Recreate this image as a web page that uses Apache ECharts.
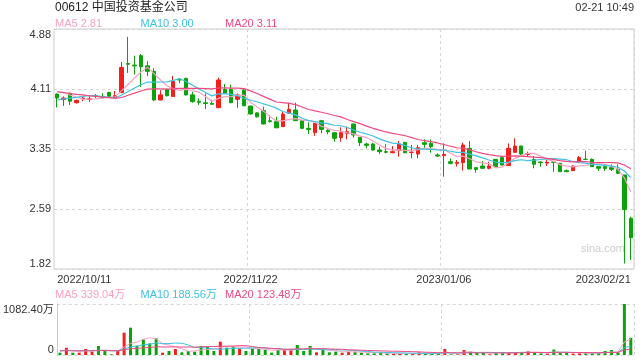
<!DOCTYPE html>
<html><head><meta charset="utf-8">
<script src="https://cdn.jsdelivr.net/npm/echarts@6/dist/echarts.min.js"></script>
<style>html,body{margin:0;padding:0;background:#fff}#c{width:640px;height:360px}</style>
</head><body><div id="c"></div>
<script>
const dates = ['2022/10/11','2022/10/12','2022/10/13','2022/10/14','2022/10/17','2022/10/18','2022/10/19','2022/10/20','2022/10/21','2022/10/24','2022/10/25','2022/10/26','2022/10/27','2022/10/28','2022/10/31',
'2022/11/01','2022/11/02','2022/11/03','2022/11/04','2022/11/07','2022/11/08','2022/11/09','2022/11/10','2022/11/11','2022/11/14','2022/11/15','2022/11/16','2022/11/17','2022/11/18','2022/11/21','2022/11/22','2022/11/23','2022/11/24','2022/11/25','2022/11/28','2022/11/29','2022/11/30',
'2022/12/01','2022/12/02','2022/12/05','2022/12/06','2022/12/07','2022/12/08','2022/12/09','2022/12/12','2022/12/13','2022/12/14','2022/12/15','2022/12/16','2022/12/19','2022/12/20','2022/12/21','2022/12/22','2022/12/23','2022/12/28','2022/12/29','2022/12/30',
'2023/01/03','2023/01/04','2023/01/05','2023/01/06','2023/01/09','2023/01/10','2023/01/11','2023/01/12','2023/01/13','2023/01/16','2023/01/17','2023/01/18','2023/01/19','2023/01/20','2023/01/26','2023/01/27','2023/01/30','2023/01/31',
'2023/02/01','2023/02/02','2023/02/03','2023/02/06','2023/02/07','2023/02/08','2023/02/09','2023/02/10','2023/02/13','2023/02/14','2023/02/15','2023/02/16','2023/02/17','2023/02/20','2023/02/21'];

const opens = [4.05,3.98,4.06,3.94,3.99,3.98,4.03,4.02,4.07,4.01,
4.07,4.44,4.42,4.54,4.41,4.34,3.975,4.11,4.02,4.24,
4.25,4.04,3.96,3.94,3.93,3.877,4.11,4.11,3.983,4.10,
3.898,3.81,3.839,3.71,3.70,3.635,3.805,3.847,3.711,3.613,
3.558,3.71,3.59,3.558,3.495,3.55,3.669,3.499,3.414,3.414,
3.337,3.316,3.303,3.329,3.435,3.305,3.286,3.43,3.422,3.274,
3.265,3.188,3.167,3.176,3.358,3.112,3.133,3.104,3.218,3.24,
3.138,3.307,3.388,3.28,3.218,3.184,3.17,3.185,3.167,3.074,
3.074,3.189,3.22,3.218,3.125,3.125,3.112,3.09,3.019,2.466];

const closes = [4.00,4.00,3.96,3.97,4.00,3.99,4.02,4.01,4.02,4.03,
4.39,4.43,4.41,4.40,4.34,3.975,4.04,4.03,4.21,4.23,
4.04,3.954,3.945,3.93,3.92,4.23,4.06,3.94,4.039,3.90,
3.796,3.76,3.669,3.70,3.62,3.796,3.856,3.711,3.613,3.60,
3.677,3.60,3.57,3.486,3.558,3.571,3.529,3.431,3.397,3.337,
3.316,3.308,3.316,3.414,3.303,3.31,3.367,3.41,3.38,3.26,
3.282,3.167,3.18,3.401,3.095,3.09,3.104,3.133,3.125,3.146,
3.358,3.388,3.286,3.29,3.155,3.176,3.18,3.18,3.061,3.06,
3.133,3.24,3.218,3.125,3.104,3.10,3.09,3.04,2.58,2.22];

const lows = [3.88,3.90,3.91,3.93,3.96,3.95,4.00,3.99,4.01,4.00,
4.06,4.32,4.30,4.14,4.28,3.96,3.97,4.02,4.02,4.19,
4.03,3.94,3.91,3.86,3.92,3.87,4.06,3.94,3.877,3.90,
3.79,3.75,3.665,3.686,3.62,3.635,3.805,3.711,3.605,3.54,
3.516,3.55,3.537,3.443,3.443,3.473,3.495,3.388,3.358,3.329,
3.286,3.295,3.295,3.252,3.295,3.231,3.231,3.346,3.303,3.252,
2.997,3.155,3.125,3.074,3.095,3.048,3.10,3.09,3.112,3.14,
3.138,3.307,3.274,3.252,3.104,3.125,3.133,3.061,3.061,3.06,
3.074,3.189,3.21,3.125,3.07,3.07,3.07,3.03,1.89,1.935];

const highs = [4.06,4.02,4.07,3.98,4.03,4.02,4.05,4.06,4.08,4.09,
4.46,4.78,4.54,4.56,4.47,4.38,4.10,4.12,4.28,4.25,
4.26,4.08,3.995,4.06,3.98,4.26,4.18,4.17,4.06,4.12,
3.90,3.82,3.89,3.78,3.76,3.826,3.94,3.94,3.72,3.69,
3.68,3.72,3.60,3.56,3.626,3.635,3.67,3.50,3.43,3.43,
3.38,3.41,3.388,3.452,3.44,3.401,3.401,3.473,3.473,3.295,
3.422,3.23,3.21,3.43,3.452,3.115,3.197,3.188,3.22,3.26,
3.422,3.486,3.39,3.316,3.26,3.19,3.218,3.19,3.17,3.09,
3.14,3.26,3.329,3.23,3.125,3.155,3.155,3.155,3.02,2.487];

// volumes in 万
const volumes = [49,155,49,49,127,71,191,85,15,85,
473,580,198,332,247,354,49,85,127,57,
85,71,191,177,85,283,155,177,141,85,
141,127,106,49,106,120,120,212,85,191,
57,106,57,71,49,71,71,49,35,35,
49,35,28,28,28,28,57,35,35,35,
127,15,15,106,71,49,49,15,49,49,
60,60,55,80,60,35,30,115,45,44,
30,35,40,40,45,85,106,57,1082.4,365];

// sessions before the first shown day (for moving averages)
const priorCloses = [4.20,4.22,4.18,4.15,4.20,4.17,4.19,4.16,4.20,4.18,3.85,3.88,3.86,3.88,3.88,4.05,4.12,4.10,4.13];
const priorVolumes = [80,95,70,110,85,90,75,100,88,92,70,85,95,80,90,105,95,100,110];

const xLabelDates = ['2022/10/11','2022/11/22','2023/01/06','2023/02/21'];
const xSplitDates = ['2022/11/22','2023/01/06'];
const yTickValues = [1.82, 2.585, 3.35, 4.115, 4.88];
const yTickLabels = ['1.82','2.59','3.35','4.11','4.88'];
const volMax = 1082.4;

const titleText = '00612 中国投资基金公司';
const timeText = '02-21 10:49';
const priceMaTexts = ['MA5 2.81','MA10 3.00','MA20 3.11'];
const volMaTexts = ['MA5 339.04万','MA10 188.56万','MA20 123.48万'];

const C_UP = '#f31f1b', C_DOWN = '#0ba20b';
const C_MA = ['#f7a3bf','#3fc2e3','#ee4a80'];
const FONT = 'Arial, "Liberation Sans", "Noto Sans CJK SC", sans-serif';

function ma(values, prior, n) {
  const all = prior.concat(values);
  return values.map((_, i) => {
    let s = 0;
    for (let k = 0; k < n; k++) s += all[prior.length + i - k];
    return +(s / n).toFixed(4);
  });
}

const candleData = dates.map((_, i) => [opens[i], closes[i], lows[i], highs[i]]);
const volData = volumes.map((v, i) => ({value: v, itemStyle: {color: closes[i] >= opens[i] ? C_UP : C_DOWN}}));
const maN = [5, 10, 20];

const splitLineCfg = {
  show: true,
  interval: (idx) => xSplitDates.indexOf(dates[idx]) >= 0,
  lineStyle: {color: '#d6d6d6', type: [3, 3], width: 1}
};
const hSplit = {show: true, lineStyle: {color: '#d6d6d6', type: [3, 3], width: 1}};

const chart = echarts.init(document.getElementById('c'), null, {renderer: 'canvas'});

const graphics = [
  {type: 'text', x: 55, y: 8, style: {text: titleText, fill: '#222', font: '12px ' + FONT, verticalAlign: 'middle', align: 'left'}},
  {type: 'text', x: 634, y: 8, style: {text: timeText, fill: '#333', font: '11px ' + FONT, verticalAlign: 'middle', align: 'right'}},
  {type: 'text', x: 603, y: 249, style: {text: 'sina.com', fill: '#cccccc', font: '11px ' + FONT, verticalAlign: 'middle', align: 'center'}}
];
const legendX = [55, 140.5, 225];
priceMaTexts.forEach((t, k) => graphics.push({type: 'text', x: legendX[k], y: 23.5, style: {text: t, fill: C_MA[k], font: '11px ' + FONT, verticalAlign: 'middle', align: 'left'}}));
volMaTexts.forEach((t, k) => graphics.push({type: 'text', x: legendX[k], y: 295, style: {text: t, fill: C_MA[k], font: '11px ' + FONT, verticalAlign: 'middle', align: 'left'}}));

const series = [
  {
    type: 'candlestick', xAxisIndex: 0, yAxisIndex: 0, data: candleData, barWidth: 4,
    itemStyle: {color: C_UP, color0: C_DOWN, borderColor: C_UP, borderColor0: C_DOWN, borderWidth: 1}
  }
];
maN.forEach((n, k) => series.push({
  type: 'line', xAxisIndex: 0, yAxisIndex: 0, data: ma(closes, priorCloses, n),
  showSymbol: false, symbol: 'none', lineStyle: {color: C_MA[k], width: 1.2}, z: 3
}));
series.push({type: 'bar', xAxisIndex: 1, yAxisIndex: 1, data: volData, barWidth: 3});
maN.forEach((n, k) => series.push({
  type: 'line', xAxisIndex: 1, yAxisIndex: 1, data: ma(volumes, priorVolumes, n),
  showSymbol: false, symbol: 'none', lineStyle: {color: C_MA[k], width: 1}, z: 3
}));

chart.setOption({
  animation: false,
  textStyle: {fontFamily: FONT},
  graphic: graphics,
  grid: [
    {left: 54, right: 6, top: 29, height: 240, show: true, borderColor: '#cccccc', borderWidth: 1},
    {left: 54, right: 6, top: 304, height: 51}
  ],
  xAxis: [
    {
      type: 'category', gridIndex: 0, data: dates, boundaryGap: true,
      axisLine: {show: false}, axisTick: {show: false},
      axisLabel: {
        interval: (idx) => xLabelDates.indexOf(dates[idx]) >= 0,
        alignMinLabel: 'left', alignMaxLabel: 'right',
        color: '#333', fontSize: 11, margin: 5, fontFamily: FONT
      },
      splitLine: splitLineCfg
    },
    {
      type: 'category', gridIndex: 1, data: dates, boundaryGap: true,
      axisLine: {show: false}, axisTick: {show: false}, axisLabel: {show: false},
      splitLine: splitLineCfg
    }
  ],
  yAxis: [
    {
      type: 'value', gridIndex: 0, min: yTickValues[0], max: yTickValues[yTickValues.length - 1], scale: true,
      axisLine: {show: false},
      axisTick: {show: false, customValues: yTickValues},
      axisLabel: {
        customValues: yTickValues,
        formatter: (v) => { const k = yTickValues.findIndex(t => Math.abs(t - v) < 1e-6); return k >= 0 ? yTickLabels[k] : ''; },
        verticalAlignMinLabel: 'bottom', verticalAlignMaxLabel: 'top',
        color: '#333', fontSize: 11, margin: 3, fontFamily: FONT
      },
      splitLine: hSplit
    },
    {
      type: 'value', gridIndex: 1, min: 0, max: volMax, interval: volMax,
      axisLine: {show: true, lineStyle: {color: '#cccccc'}},
      axisTick: {show: false},
      axisLabel: {
        formatter: (v) => v === 0 ? '0' : v.toFixed(2) + '万',
        verticalAlignMinLabel: 'bottom', verticalAlignMaxLabel: 'top',
        color: '#333', fontSize: 11, margin: 3, fontFamily: FONT
      },
      splitLine: hSplit
    }
  ],
  series: series
});
</script>
</body></html>
